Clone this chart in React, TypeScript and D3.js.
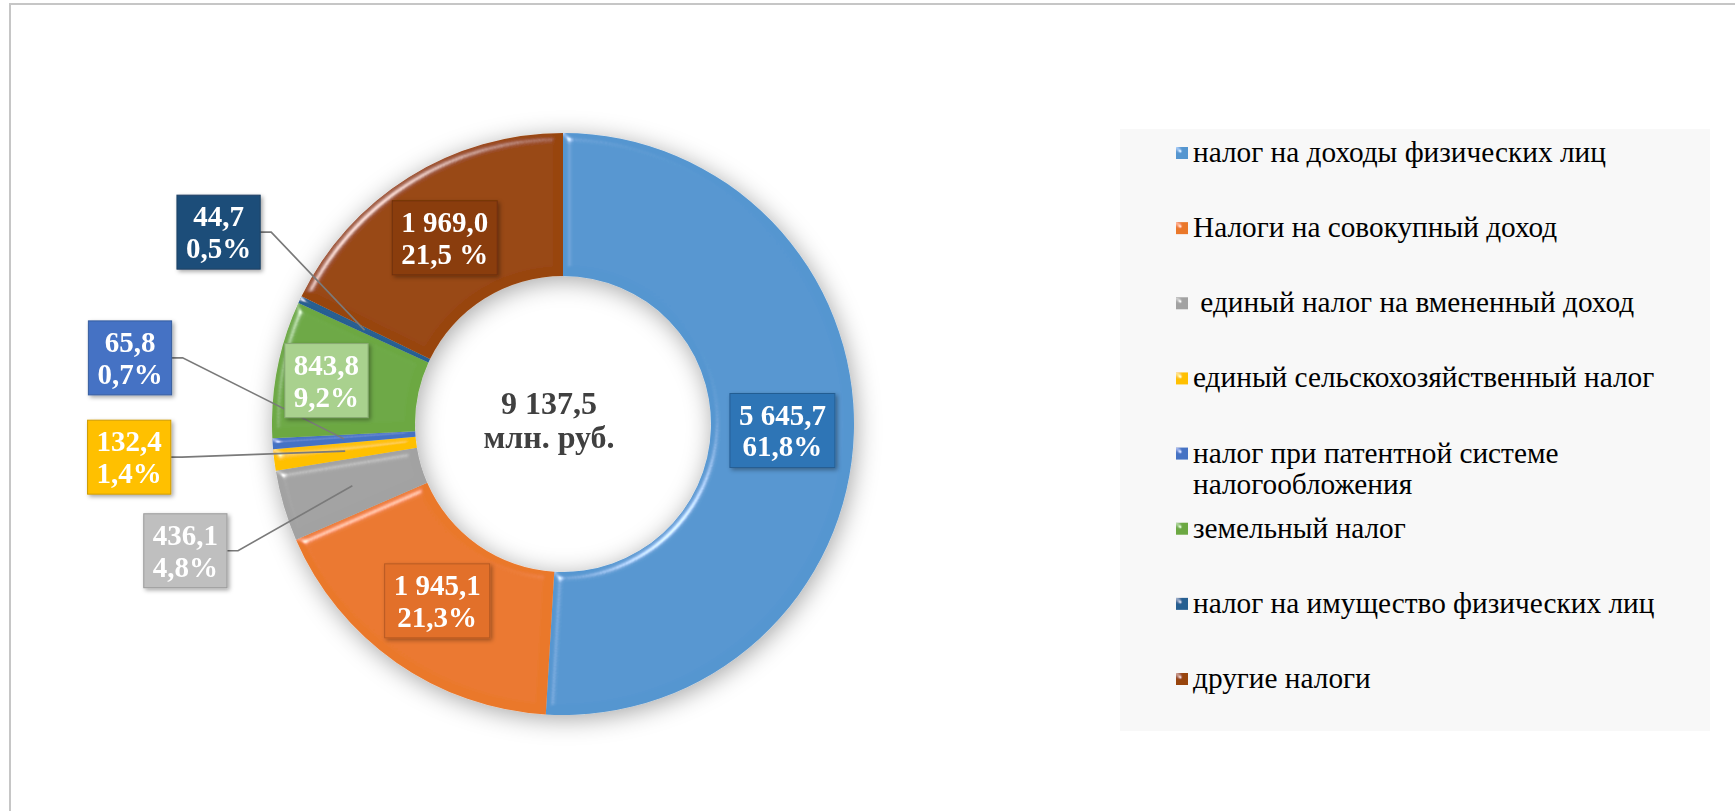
import React, { useEffect, useRef } from 'react';
import * as d3 from 'd3';

// categories, in drawing order (clockwise from 12 o'clock)
const categories = [
  'налог на доходы физических лиц',
  'Налоги на совокупный доход',
  ' единый налог на вмененный доход',
  'единый сельскохозяйственный налог',
  'налог при патентной системе налогообложения',
  'земельный налог',
  'налог на имущество физических лиц',
  'другие налоги',
];
const legendLines = [
  ['налог на доходы физических лиц'],
  ['Налоги на совокупный доход'],
  [' единый налог на вмененный доход'],
  ['единый сельскохозяйственный налог'],
  ['налог при патентной системе', 'налогообложения'],
  ['земельный налог'],
  ['налог на имущество физических лиц'],
  ['другие налоги'],
];
const values = [5645.7, 1945.1, 436.1, 132.4, 65.8, 843.8, 44.7, 1969.0];
const valueLabels = ['5 645,7', '1 945,1', '436,1', '132,4', '65,8', '843,8', '44,7', '1 969,0'];
const percentLabels = ['61,8%', '21,3%', '4,8%', '1,4%', '0,7%', '9,2%', '0,5%', '21,5 %'];
const totalLines = ['9 137,5', 'млн. руб.'];

const colors = ['#5596d0', '#ea782c', '#a2a2a2', '#ffc000', '#4472c4', '#6ca843', '#255e91', '#98450d'];
const labelFills = ['#2e75b6', '#e2702b', '#bfbfbf', '#ffc000', '#4472c4', '#a9d18e', '#1f4e79', '#8a3c0d'];
// label box shift from the slice centroid
const labelShift = [[0, 0], [0, -3], [-167, 65], [-216, 6], [-214, -81], [-21, -2], [-146, -98], [-2, 0]];

const W = 1735;
const H = 811;
const FONT = "'Liberation Serif', 'Times New Roman', serif";

function textWidth(t: string, font: string) {
  const c = document.createElement('canvas').getContext('2d')!;
  c.font = font;
  return c.measureText(t).width;
}

export default function App() {
  const ref = useRef<SVGSVGElement>(null);

  useEffect(() => {
    const svg = d3.select(ref.current);
    svg.selectAll('*').remove();

    const defs = svg.append('defs');
    const sh = defs.append('filter').attr('id', 'shadow')
      .attr('x', '-20%').attr('y', '-20%').attr('width', '140%').attr('height', '140%');
    sh.append('feGaussianBlur').attr('in', 'SourceAlpha').attr('stdDeviation', 12).attr('result', 'b');
    sh.append('feOffset').attr('in', 'b').attr('dx', 2).attr('dy', 4).attr('result', 'o');
    sh.append('feFlood').attr('flood-color', '#000').attr('flood-opacity', 0.35);
    sh.append('feComposite').attr('in2', 'o').attr('operator', 'in').attr('result', 's');
    const m = sh.append('feMerge');
    m.append('feMergeNode').attr('in', 's');
    m.append('feMergeNode').attr('in', 'SourceGraphic');

    const bv = defs.append('filter').attr('id', 'bevel')
      .attr('x', '-5%').attr('y', '-5%').attr('width', '110%').attr('height', '110%');
    bv.append('feGaussianBlur').attr('in', 'SourceAlpha').attr('stdDeviation', 4).attr('result', 'blur');
    bv.append('feSpecularLighting').attr('in', 'blur').attr('surfaceScale', 5)
      .attr('specularConstant', 0.9).attr('specularExponent', 50)
      .attr('lighting-color', '#ffffff').attr('result', 'spec')
      .append('feDistantLight').attr('azimuth', 225).attr('elevation', 40);
    bv.append('feComposite').attr('in', 'spec').attr('in2', 'SourceAlpha').attr('operator', 'in').attr('result', 'specIn');
    bv.append('feComposite').attr('in', 'SourceGraphic').attr('in2', 'specIn')
      .attr('operator', 'arithmetic').attr('k1', 0).attr('k2', 1).attr('k3', 0.7).attr('k4', 0);

    const lsh = defs.append('filter').attr('id', 'lshadow')
      .attr('x', '-20%').attr('y', '-20%').attr('width', '140%').attr('height', '140%');
    lsh.append('feDropShadow').attr('dx', 2).attr('dy', 2).attr('stdDeviation', 2)
      .attr('flood-color', '#000').attr('flood-opacity', 0.35);

    // frame
    svg.append('rect').attr('x', 10).attr('y', 4).attr('width', W).attr('height', H)
      .attr('fill', '#fff').attr('stroke', '#c6c6c6').attr('stroke-width', 2);

    const cx = 563, cy = 424, R = 291, r0 = 148;
    const pie = d3.pie<number>().sort(null).value(d => d);
    const arcs = pie(values);
    const arc = d3.arc<d3.PieArcDatum<number>>().innerRadius(r0).outerRadius(R);

    const g = svg.append('g').attr('transform', `translate(${cx},${cy})`);
    const ring = g.append('g').attr('filter', 'url(#shadow)');
    ring.selectAll('path').data(arcs).enter().append('path')
      .attr('d', arc)
      .attr('fill', (d, i) => colors[i])
      .attr('filter', 'url(#bevel)');

    // center total
    g.append('text').attr('text-anchor', 'middle').attr('font-family', FONT)
      .attr('font-weight', 'bold').attr('font-size', 32).attr('fill', '#404040')
      .selectAll('tspan').data(totalLines).enter().append('tspan')
      .attr('x', -14).attr('y', (d, i) => -10 + i * 34).text(d => d);

    // data labels
    const lf = `bold 29px ${FONT}`;
    const lineH = 32;
    arcs.forEach((a, i) => {
      const [ox, oy] = arc.centroid(a);
      const bx = ox + labelShift[i][0];
      const by = oy + labelShift[i][1];
      const tw = Math.max(textWidth(valueLabels[i], lf), textWidth(percentLabels[i], lf));
      const bw = tw + 18;
      const bh = 74;
      if (Math.abs(bx - ox) > bw / 2 || Math.abs(by - oy) > bh / 2) {
        const sx = bx + bw / 2;
        const pts: [number, number][] = [[sx, by], [sx + 11, by], [ox, oy]];
        g.append('path').attr('d', d3.line()(pts)!).attr('fill', 'none')
          .attr('stroke', '#7a7a7a').attr('stroke-width', 1.6);
      }
      g.append('rect').attr('x', bx - bw / 2).attr('y', by - bh / 2).attr('width', bw).attr('height', bh)
        .attr('fill', labelFills[i]).attr('stroke', d3.color(labelFills[i])!.darker(0.6).formatHex())
        .attr('stroke-width', 1).attr('filter', 'url(#lshadow)');
      g.append('text').attr('text-anchor', 'middle').attr('font-family', FONT)
        .attr('font-weight', 'bold').attr('font-size', 29).attr('fill', '#fff')
        .selectAll('tspan').data([valueLabels[i], percentLabels[i]]).enter().append('tspan')
        .attr('x', bx).attr('y', (d, k) => by - 6 + k * lineH).text(d => d);
    });

    // legend
    const lx = 1120, ly = 129, lw = 590, lh = 602;
    svg.append('rect').attr('x', lx).attr('y', ly).attr('width', lw).attr('height', lh).attr('fill', '#f8f8f8');
    const rowY = d3.scaleLinear().domain([0, categories.length - 1]).range([153, 679]);
    categories.forEach((c, i) => {
      const y = rowY(i);
      svg.append('rect').attr('x', 1176).attr('y', y - 6).attr('width', 12).attr('height', 12)
        .attr('fill', colors[i]).attr('filter', 'url(#bevel)');
      svg.append('text').attr('font-family', FONT).attr('font-size', 29.3).attr('fill', '#000')
        .style('white-space', 'pre')
        .selectAll('tspan').data(legendLines[i]).enter().append('tspan')
        .attr('x', 1193).attr('y', (d, k) => y + 9 + k * 31).text(d => d);
    });
  }, []);

  return <svg ref={ref} width={W} height={H} style={{ position: 'absolute', left: 0, top: 0, background: '#fff' }} />;
}
